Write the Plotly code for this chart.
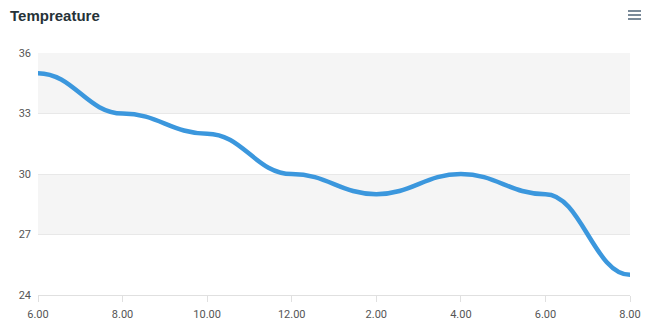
import plotly.graph_objects as go

labels = ["6.00", "8.00", "10.00", "12.00", "2.00", "4.00", "6.00", "8.00"]
temps = [35, 33, 32, 30, 29, 30, 29, 25]
y_ticks = [24, 27, 30, 33, 36]

x = list(range(len(labels)))
LINE_COLOR = "#3b97dd"

fig = go.Figure()
# data trace (kept for the data/hover; drawn line is the smooth bezier path below)
fig.add_trace(go.Scatter(
    x=x, y=temps, mode="lines",
    line=dict(color=LINE_COLOR, width=4.5),
    opacity=0, hoverinfo="x+y",
))

shapes = []
# alternating bands
for y0, y1 in [(33, 36), (27, 30)]:
    shapes.append(dict(type="rect", xref="paper", yref="y", x0=0, x1=1, y0=y0, y1=y1,
                       fillcolor="#f5f5f5", line=dict(width=0), layer="below"))

# smooth curve with horizontal tangents at each point (built from the data)
path = f"M {x[0]},{temps[0]}"
for i in range(len(x) - 1):
    x0, y0, x1, y1 = x[i], temps[i], x[i + 1], temps[i + 1]
    h = (x1 - x0) * 0.42
    path += f" C {x0 + h},{y0} {x1 - h},{y1} {x1},{y1}"
shapes.append(dict(type="path", xref="x", yref="y", path=path,
                   line=dict(color=LINE_COLOR, width=4.5), layer="above"))

# hamburger icon
for yy in [11, 15, 19]:
    shapes.append(dict(type="line", xref="paper", yref="paper",
                       x0=(628 - 38) / 592, x1=(641 - 38) / 592,
                       y0=(322 - 27 - yy) / 242, y1=(322 - 27 - yy) / 242,
                       line=dict(color="#7a8a99", width=2)))

fig.update_layout(
    width=656, height=322,
    margin=dict(l=38, r=26, t=53, b=27),
    paper_bgcolor="white", plot_bgcolor="white",
    showlegend=False,
    shapes=shapes,
    title=dict(text="<b>Tempreature</b>", x=10 / 656, xanchor="left", y=1 - 16 / 322, yanchor="middle",
               font=dict(family="Liberation Sans, Arial", size=15, color="#263238")),
    font=dict(family="Roboto, Arial", size=11, color="#666"),
)
fig.update_xaxes(
    range=[0, len(labels) - 1], tickvals=x, ticktext=labels,
    showgrid=False, zeroline=False, automargin=False,
    showline=True, linecolor="#e0e0e0", linewidth=1,
    ticks="outside", ticklen=6, tickcolor="#e0e0e0",
    ticklabelstandoff=3,
    tickfont=dict(size=11, color="#555"),
)
fig.update_yaxes(
    range=[24, 36], tickvals=y_ticks, automargin=False,
    showgrid=True, gridcolor="#e8e8e8", gridwidth=1, zeroline=False,
    tickfont=dict(size=11, color="#555"), ticklabelstandoff=6,
)
fig.write_html("out.html")
